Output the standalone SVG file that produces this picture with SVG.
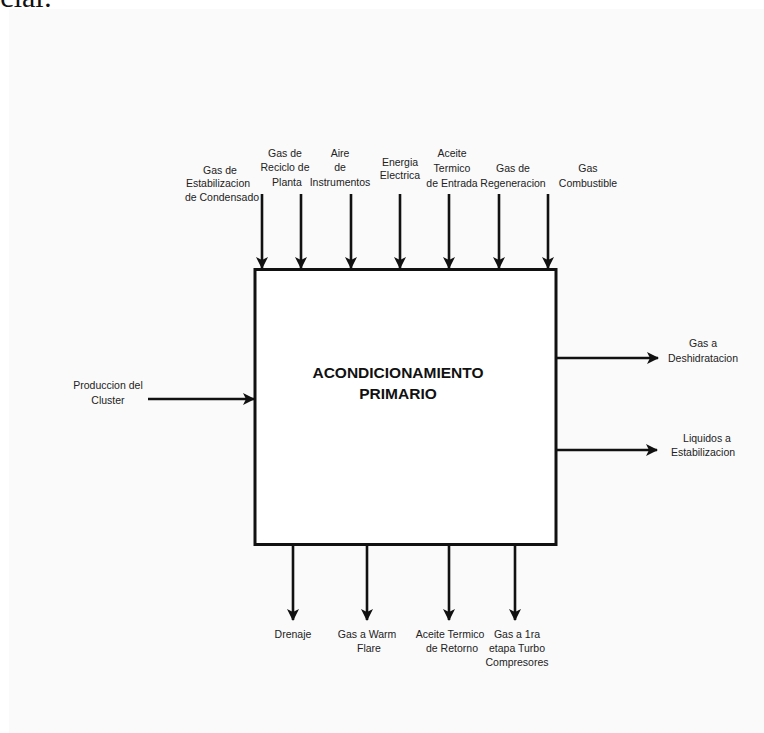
<svg xmlns="http://www.w3.org/2000/svg" width="764" height="733" viewBox="0 0 764 733">
  <defs>
    <marker id="head" viewBox="0 0 12 12" refX="11" refY="6" markerWidth="12" markerHeight="12" markerUnits="userSpaceOnUse" orient="auto">
      <path d="M0,0 L12,6 L0,12 L3,6 z" fill="#111"/>
    </marker>
    <style>
      .lbl { font-family: "Liberation Sans", Arial, sans-serif; font-size: 10.5px; fill: #222; text-anchor: middle; }
      .title { font-family: "Liberation Sans", Arial, sans-serif; font-size: 15.5px; font-weight: bold; fill: #111; text-anchor: middle; }
      .flow { stroke: #111; stroke-width: 2.6; fill: none; marker-end: url(#head); }
    </style>
  </defs>

  <!-- page -->
  <rect x="0" y="0" width="764" height="733" fill="#ffffff"/>
  <rect x="9" y="9" width="755" height="724" fill="#fafafa"/>
  <text x="52" y="7" font-family="'Liberation Serif', 'Times New Roman', serif" font-size="30" fill="#111" text-anchor="end">cial:</text>

  <!-- process block -->
  <g id="acondicionamiento">
    <rect x="255" y="269.5" width="301" height="275" fill="#ffffff" stroke="#111" stroke-width="3"/>
    <text class="title" x="398" y="378">ACONDICIONAMIENTO</text>
    <text class="title" x="398" y="399">PRIMARIO</text>
  </g>

  <!-- connectors -->
  <g id="connectors">
    <line class="flow" x1="262" y1="194" x2="262" y2="268"/>
    <line class="flow" x1="301" y1="194" x2="301" y2="268"/>
    <line class="flow" x1="351" y1="194" x2="351" y2="268"/>
    <line class="flow" x1="400" y1="194" x2="400" y2="268"/>
    <line class="flow" x1="449" y1="194" x2="449" y2="268"/>
    <line class="flow" x1="499" y1="194" x2="499" y2="268"/>
    <line class="flow" x1="548" y1="194" x2="548" y2="268"/>
    <line class="flow" x1="148" y1="399" x2="254" y2="399"/>
    <line class="flow" x1="556" y1="358" x2="658" y2="358"/>
    <line class="flow" x1="556" y1="450" x2="657" y2="450"/>
    <line class="flow" x1="293" y1="545" x2="293" y2="620"/>
    <line class="flow" x1="367" y1="545" x2="367" y2="620"/>
    <line class="flow" x1="449" y1="545" x2="449" y2="620"/>
    <line class="flow" x1="515" y1="545" x2="515" y2="620"/>
  </g>

  <!-- inputs from above -->
  <g id="in-gas-estabilizacion">
    <text class="lbl" x="220" y="174">Gas de</text>
    <text class="lbl" x="218" y="187">Estabilizacion</text>
    <text class="lbl" x="222" y="201">de Condensado</text>
  </g>
  <g id="in-gas-reciclo">
    <text class="lbl" x="285" y="157">Gas de</text>
    <text class="lbl" x="285" y="171">Reciclo de</text>
    <text class="lbl" x="287" y="186">Planta</text>
  </g>
  <g id="in-aire">
    <text class="lbl" x="340" y="157">Aire</text>
    <text class="lbl" x="340" y="171">de</text>
    <text class="lbl" x="340" y="186">Instrumentos</text>
  </g>
  <g id="in-energia">
    <text class="lbl" x="400" y="166">Energia</text>
    <text class="lbl" x="400" y="179">Electrica</text>
  </g>
  <g id="in-aceite">
    <text class="lbl" x="452" y="157">Aceite</text>
    <text class="lbl" x="452" y="172">Termico</text>
    <text class="lbl" x="452" y="187">de Entrada</text>
  </g>
  <g id="in-gas-regeneracion">
    <text class="lbl" x="513" y="172">Gas de</text>
    <text class="lbl" x="513" y="187">Regeneracion</text>
  </g>
  <g id="in-gas-combustible">
    <text class="lbl" x="588" y="172">Gas</text>
    <text class="lbl" x="588" y="187">Combustible</text>
  </g>

  <!-- input from the left -->
  <g id="in-produccion">
    <text class="lbl" x="108" y="389">Produccion del</text>
    <text class="lbl" x="108" y="404">Cluster</text>
  </g>

  <!-- outputs to the right -->
  <g id="out-gas-deshidratacion">
    <text class="lbl" x="703" y="347">Gas a</text>
    <text class="lbl" x="703" y="362">Deshidratacion</text>
  </g>
  <g id="out-liquidos">
    <text class="lbl" x="707" y="442">Liquidos a</text>
    <text class="lbl" x="703" y="456">Estabilizacion</text>
  </g>

  <!-- outputs below -->
  <g id="out-drenaje">
    <text class="lbl" x="293" y="638">Drenaje</text>
  </g>
  <g id="out-warm-flare">
    <text class="lbl" x="367" y="638">Gas a Warm</text>
    <text class="lbl" x="369" y="652">Flare</text>
  </g>
  <g id="out-aceite-retorno">
    <text class="lbl" x="450" y="638">Aceite Termico</text>
    <text class="lbl" x="452" y="652">de Retorno</text>
  </g>
  <g id="out-turbo">
    <text class="lbl" x="517" y="638">Gas a 1ra</text>
    <text class="lbl" x="517" y="652">etapa Turbo</text>
    <text class="lbl" x="517" y="666">Compresores</text>
  </g>
</svg>
